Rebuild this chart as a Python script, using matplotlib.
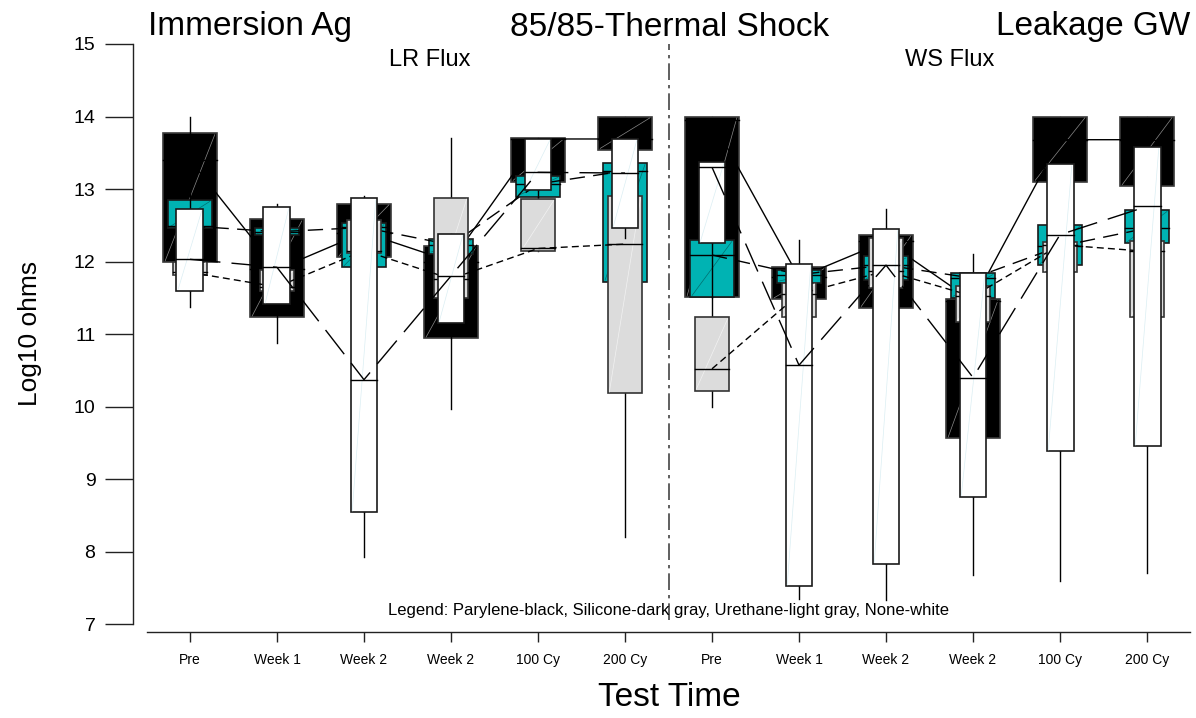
import matplotlib.pyplot as plt
from matplotlib.patches import Rectangle

plt.rcParams['font.family'] = ['Liberation Sans', 'DejaVu Sans']

# Test times (LR Flux block, then WS Flux block)
test_times = ['Pre', 'Week 1', 'Week 2', 'Week 2', '100 Cy', '200 Cy',
              'Pre', 'Week 1', 'Week 2', 'Week 2', '100 Cy', '200 Cy']
positions = list(range(1, 13))

# Parylene (black)
pary_q1 = [11.99, 11.23, 12.06, 10.94, 13.10, 13.54, 11.51, 11.48, 11.36, 9.56, 13.10, 13.04]
pary_q3 = [13.77, 12.58, 12.80, 12.22, 13.70, 14.00, 14.00, 11.92, 12.37, 11.48, 14.00, 14.00]
pary_med = [13.40, 11.89, 12.40, 12.00, 13.69, 13.69, 13.95, 11.78, 12.28, 11.45, 13.68, 13.68]
pary_lo = pary_q1
pary_hi = pary_q3

# Silicone (dark gray -> teal)
sili_q1 = [12.46, 12.37, 11.92, 12.11, 12.89, 11.72, 11.51, 11.71, 11.74, 11.50, 11.95, 12.25]
sili_q3 = [12.85, 12.46, 12.53, 12.31, 13.18, 13.36, 12.30, 11.88, 12.07, 11.84, 12.51, 12.71]
sili_med = [12.49, 12.41, 12.47, 12.23, 13.07, 13.25, 12.09, 11.82, 11.95, 11.77, 12.21, 12.46]
sili_lo = sili_q1
sili_hi = sili_q3

# Urethane (light gray)
ure_q1 = [11.81, 11.60, 12.12, 11.50, 12.15, 10.18, 10.22, 11.23, 11.63, 11.17, 11.85, 11.23]
ure_q3 = [12.00, 11.88, 12.57, 12.88, 12.86, 12.90, 11.23, 11.71, 12.32, 11.66, 12.27, 12.28]
ure_med = [11.85, 11.65, 12.15, 11.76, 12.18, 12.24, 10.52, 11.55, 11.87, 11.52, 12.23, 12.14]
ure_lo = [11.37, 10.88, 7.93, 9.97, 12.15, 8.20, 10.00, 7.34, 7.33, 7.68, 7.60, 7.70]
ure_hi = [14.00, 12.80, 12.90, 13.70, 13.00, 12.90, 12.90, 12.30, 12.72, 12.11, 13.00, 13.00]

# None (white)
none_q1 = [11.60, 11.41, 8.54, 11.15, 12.99, 12.46, 12.25, 7.52, 7.83, 8.75, 9.38, 9.45]
none_q3 = [12.72, 12.75, 12.87, 12.38, 13.69, 13.69, 13.37, 11.97, 12.45, 11.84, 13.34, 13.58]
none_med = [12.03, 11.92, 10.37, 11.80, 13.23, 13.22, 13.30, 10.57, 11.95, 10.40, 12.37, 12.76]
none_lo = [11.60, 11.41, 8.54, 11.15, 12.99, 12.33, 12.25, 7.52, 7.83, 8.75, 9.38, 9.45]
none_hi = none_q3

series = [
    dict(q1=pary_q1, q3=pary_q3, med=pary_med, lo=pary_lo, hi=pary_hi,
         face='black', edge='#3a3a3a', width=0.61, ls='-', diag='#8a8a8a'),
    dict(q1=sili_q1, q3=sili_q3, med=sili_med, lo=sili_lo, hi=sili_hi,
         face='#00b3b3', edge='#1a1a1a', width=0.50, ls=(0, (11, 6)), diag='#006f6f'),
    dict(q1=ure_q1, q3=ure_q3, med=ure_med, lo=ure_lo, hi=ure_hi,
         face='#dcdcdc', edge='#333333', width=0.40, ls=(0, (5, 3)), diag='#f2f2f2'),
    dict(q1=none_q1, q3=none_q3, med=none_med, lo=none_lo, hi=none_hi,
         face='white', edge='#1a1a1a', width=0.31, ls=(0, (22, 8)), diag='#dbeef3'),
]

# Figure
fig = plt.figure(figsize=(11.96, 7.18), dpi=100)
ax = fig.add_axes([147/1196, 1 - 632/718, (1190 - 147)/1196, (632 - 44)/718])
ax.set_xlim(0.506, 12.494)
ax.set_ylim(6.89, 15.0)

for s in series:
    w = s['width']
    for x, q1, q3, md, lo, hi in zip(positions, s['q1'], s['q3'], s['med'],
                                     s['lo'], s['hi']):
        # whisker
        ax.plot([x, x], [lo, hi], color='black', lw=1.0, zorder=2)
        # box
        ax.add_patch(Rectangle((x - w/2, q1), w, q3 - q1, facecolor=s['face'],
                               edgecolor=s['edge'], lw=1.2, zorder=2))
        # rendering artefact diagonal
        ax.plot([x - w/2 + 0.02, x + w/2 - 0.02], [q1 + 0.02, q3 - 0.02],
                color=s['diag'], lw=0.5, zorder=2)
        # median
        ax.plot([x - w/2, x + w/2], [md, md], color='black', lw=1.0, zorder=2)
    # connecting lines of medians, one per flux block
    ax.plot(positions[:6], s['med'][:6], color='black', lw=1.0, ls=s['ls'], zorder=2)
    ax.plot(positions[6:], s['med'][6:], color='black', lw=1.0, ls=s['ls'], zorder=2)

# divider between flux blocks
ax.plot([6.506, 6.506], [7.05, 15.0], color='#444444', lw=1.2,
        ls=(0, (10, 3, 2, 3)), zorder=1)

# Axes styling
ax.spines['top'].set_visible(False)
ax.spines['right'].set_visible(False)
ax.spines['left'].set_position(('outward', 10.1))
ax.spines['left'].set_bounds(7, 15)
for sp in ('left', 'bottom'):
    ax.spines[sp].set_color('#222222')
    ax.spines[sp].set_linewidth(1.0)

ax.set_yticks(range(7, 16))
ax.tick_params(axis='y', length=20, width=1.0, pad=7, labelsize=14, color='#222222')
ax.set_xticks(positions)
ax.set_xticklabels(test_times)
ax.tick_params(axis='x', length=7, width=1.0, pad=8, labelsize=10, color='#222222')

# Labels and titles
fig.text(30/1196, 1 - 333/718, 'Log10 ohms', rotation=90, ha='center', va='center',
         fontsize=19)
fig.text(669/1196, 1 - 697/718, 'Test Time', ha='center', va='center', fontsize=24)
fig.text(148/1196, 1 - 27/718, 'Immersion Ag', ha='left', va='center', fontsize=24)
fig.text(670/1196, 1 - 27/718, '85/85-Thermal Shock', ha='center', va='center', fontsize=24)
fig.text(1190/1196, 1 - 27/718, 'Leakage GW', ha='right', va='center', fontsize=24)
fig.text(430/1196, 1 - 60/718, 'LR Flux', ha='center', va='center', fontsize=17)
fig.text(950/1196, 1 - 60/718, 'WS Flux', ha='center', va='center', fontsize=17)
fig.text(669/1196, 1 - 610/718,
         'Legend: Parylene-black, Silicone-dark gray, Urethane-light gray, None-white',
         ha='center', va='center', fontsize=12)

fig.savefig('out.png', dpi=100)
